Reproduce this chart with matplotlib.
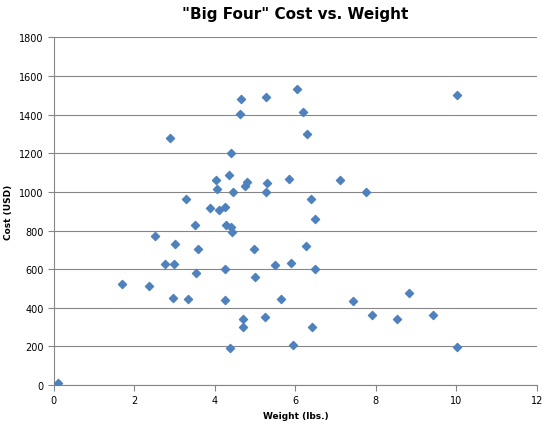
import matplotlib
matplotlib.use("Agg")
import matplotlib.pyplot as plt

weight = [0.1,1.7,2.37,2.5,2.75,2.88,3.0,2.98,2.95,3.28,3.33,3.5,3.58,3.53,3.88,4.02,4.05,4.1,4.25,4.28,4.25,4.25,4.37,4.4,4.35,4.45,4.4,4.42,4.62,4.64,4.7,4.7,4.75,4.8,4.97,5.0,5.27,5.3,5.27,5.25,5.5,5.64,5.84,5.9,5.94,6.04,6.19,6.29,6.26,6.38,6.41,6.5,6.5,7.1,7.75,7.43,7.9,8.52,8.82,9.42,10.01,10.01]
cost = [10,522,512,770,626,1277,730,626,450,962,445,828,703,580,917,1060,1014,905,920,828,600,440,191,1200,1086,998,817,790,1402,1480,341,300,1030,1050,703,559,1490,1045,998,352,620,445,1066,631,207,1531,1412,1298,719,962,300,859,600,1060,998,435,362,341,476,362,1500,197]

fig, ax = plt.subplots(figsize=(5.5, 4.27), dpi=100)
fig.subplots_adjust(left=0.098, right=0.976, top=0.91, bottom=0.096)
ax.scatter(weight, cost, marker='D', s=17, color='#4F81BD', zorder=3)
ax.set_xlim(0, 12)
ax.set_ylim(0, 1800)
ax.set_xticks(range(0, 13, 2))
ax.set_yticks(range(0, 1801, 200))
ax.grid(axis='y', color='#868686', linewidth=0.8)
ax.set_axisbelow(True)
for s in ['top', 'right']:
    ax.spines[s].set_visible(False)
for s in ['left', 'bottom']:
    ax.spines[s].set_color('#868686')
ax.tick_params(labelsize=7, color='#868686', length=4)
ax.set_title('"Big Four" Cost vs. Weight', fontsize=11, fontweight='bold', pad=14)
ax.set_xlabel('Weight (lbs.)', fontsize=6.5, fontweight='bold')
ax.set_ylabel('Cost (USD)', fontsize=6.5, fontweight='bold')
fig.savefig('out.png')
